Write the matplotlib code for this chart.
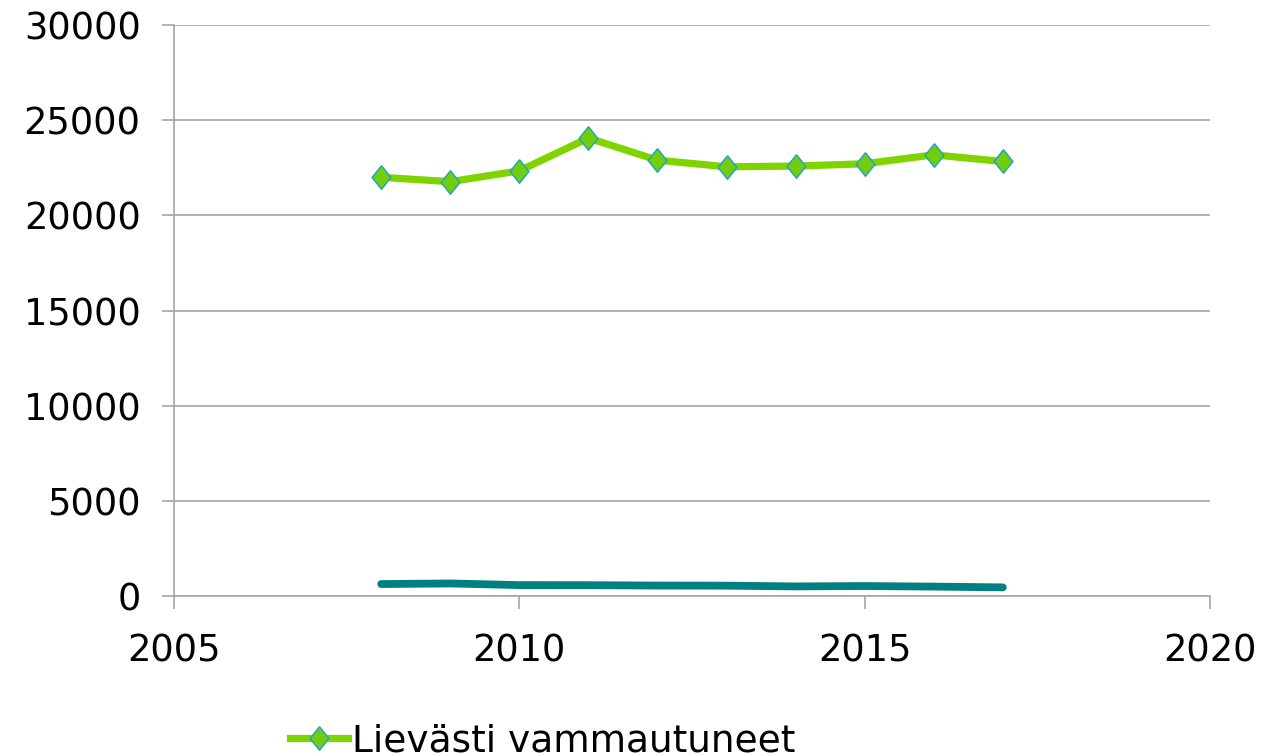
import matplotlib
matplotlib.use("Agg")
import matplotlib.pyplot as plt

# ---- data ----
years = [2008, 2009, 2010, 2011, 2012, 2013, 2014, 2015, 2016, 2017]
lievasti = [22000, 21770, 22340, 24060, 22900, 22550, 22590, 22710, 23180, 22830]
vakavasti = [630, 660, 575, 570, 550, 545, 505, 525, 495, 455]

xticks = [2005, 2010, 2015, 2020]
yticks = [0, 5000, 10000, 15000, 20000, 25000, 30000]

GREEN = "#7FD400"
MARKER_FACE = "#72CC10"
MARKER_EDGE = "#1AA3C4"
TEAL = "#008080"
GRID = "#A6A6A6"

plt.rcParams["font.family"] = "DejaVu Sans"

fig = plt.figure(figsize=(12.86, 7.56), dpi=100)
ax = fig.add_axes([0.1353, 0.2116, 0.8056, 0.7553])

diamond = [(0, 1), (0.8, 0), (0, -1), (-0.8, 0), (0, 1)]

ax.plot(years, vakavasti, color=TEAL, linewidth=5.6, solid_capstyle="round", zorder=3)
ax.plot(years, lievasti, color=GREEN, linewidth=5.2, marker=diamond, markersize=17,
        markerfacecolor=MARKER_FACE, markeredgecolor=MARKER_EDGE, markeredgewidth=1.0,
        label="Lievästi vammautuneet", zorder=4)

ax.set_xlim(2005, 2020)
ax.set_ylim(0, 30000)
ax.set_xticks(xticks)
ax.set_yticks(yticks)
ax.grid(axis="y", color=GRID, linewidth=1.2, zorder=0)
ax.spines[["top", "right"]].set_visible(False)
ax.spines["left"].set_color(GRID)
ax.spines["bottom"].set_color(GRID)
ax.spines["left"].set_linewidth(1.2)
ax.spines["bottom"].set_linewidth(1.2)
ax.tick_params(axis="both", colors=GRID, labelcolor="black", labelsize=26.5,
               length=9, width=1.2, direction="out")
ax.tick_params(axis="y", pad=15)
ax.tick_params(axis="x", pad=17)

fig.legend(loc="center left", bbox_to_anchor=(290 / 1286, 1 - 741 / 756),
           frameon=False, fontsize=27, handlelength=1.55, handletextpad=0.1,
           borderpad=0, borderaxespad=0)

fig.savefig("out.png", dpi=100)
